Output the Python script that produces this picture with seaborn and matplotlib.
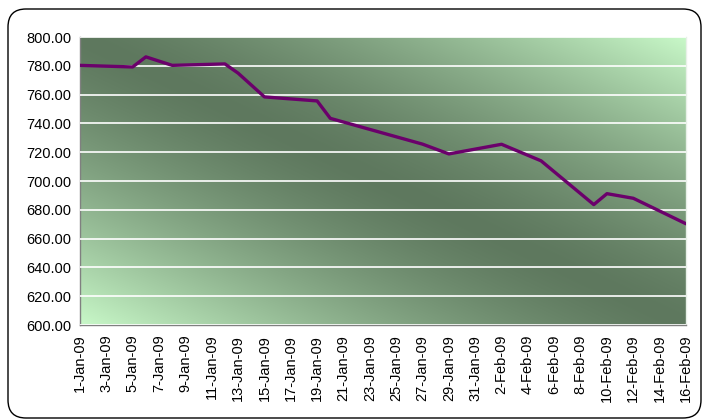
import matplotlib
matplotlib.use("Agg")
import matplotlib.pyplot as plt
from matplotlib.patches import FancyBboxPatch
import seaborn as sns
import numpy as np
import pandas as pd

# values
dates = ["2009-01-01", "2009-01-05", "2009-01-06", "2009-01-08", "2009-01-12",
         "2009-01-13", "2009-01-15", "2009-01-19", "2009-01-20", "2009-01-27",
         "2009-01-29", "2009-02-02", "2009-02-05", "2009-02-09", "2009-02-10",
         "2009-02-12", "2009-02-16"]
values = [780.3, 779.2, 786.2, 780.3, 781.3,
          774.9, 758.4, 755.6, 743.5, 725.6,
          718.8, 725.5, 714.0, 683.6, 691.2,
          688.0, 670.3]
y_ticks = [600, 620, 640, 660, 680, 700, 720, 740, 760, 780, 800]

df = pd.DataFrame({"date": pd.to_datetime(dates), "value": values})

sns.set_style("white")
plt.rcParams['font.family'] = ['Liberation Sans', 'DejaVu Sans']

fig = plt.figure(figsize=(7.04, 4.19), dpi=100)
ax = fig.add_axes([80 / 704, 1 - 325 / 419, 606 / 704, 288 / 419])

# diagonal two-colour gradient: light in bottom-left / top-right corners,
# dark along the top-left -> bottom-right diagonal
gx, gy = np.meshgrid(np.linspace(0, 1, 400), np.linspace(0, 1, 300))
d = np.abs(gx + gy - 1) ** 1.4
light = np.array([200, 248, 200]) / 255
dark = np.array([94, 120, 94]) / 255
img = dark + (light - dark) * d[..., None]
ax.imshow(img, origin="lower", extent=[0, 1, 0, 1], transform=ax.transAxes,
          aspect="auto", zorder=0, interpolation="bilinear")

sns.lineplot(data=df, x="date", y="value", ax=ax, color="#6b006b",
             linewidth=2.4, zorder=3)

ax.set_ylim(600, 800)
ax.set_yticks(y_ticks)
ax.set_yticklabels([f"{v:.2f}" for v in y_ticks], fontsize=10.5)
ax.grid(axis="y", color="white", linewidth=1.2)
ax.set_axisbelow(False)

start, end = pd.Timestamp("2009-01-01"), pd.Timestamp("2009-02-16")
ax.set_xlim(start, end)
xt = pd.date_range(start, end, freq="2D")
ax.set_xticks(xt)
ax.set_xticklabels([f"{t.day}-{t:%b-%y}" for t in xt], rotation=90, fontsize=10.5)
ax.set_xlabel("")
ax.set_ylabel("")

ax.spines["top"].set_visible(False)
ax.spines["right"].set_color("#e8f0e8")
ax.spines["right"].set_linewidth(1)
for s in ["left", "bottom"]:
    ax.spines[s].set_color("#808080")
    ax.spines[s].set_linewidth(1)
ax.tick_params(axis="both", direction="out", length=4, width=1, color="#808080",
               labelcolor="black", pad=2)
ax.tick_params(axis="x", pad=3)

# rounded outer frame
frame = FancyBboxPatch((0.08, 0.01), 6.93, 4.09,
                       boxstyle="round,pad=0,rounding_size=0.18",
                       transform=fig.dpi_scale_trans, fill=False,
                       edgecolor="black", linewidth=1.0)
fig.patches.append(frame)

fig.savefig("out.png", dpi=100)
